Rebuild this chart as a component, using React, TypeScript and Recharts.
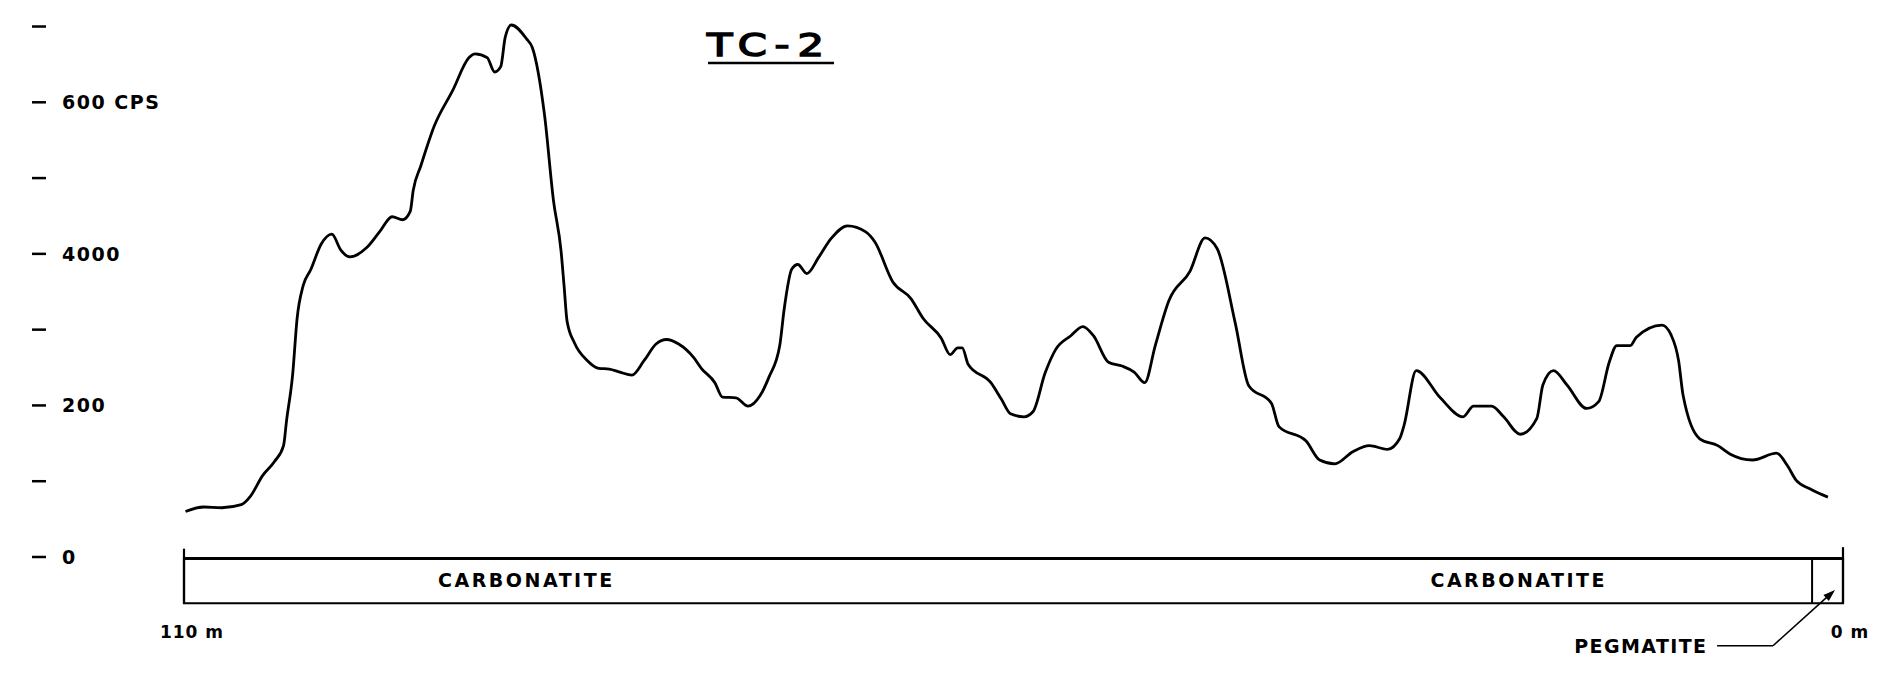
import React from 'react';
import { LineChart, Line, XAxis, YAxis, ReferenceArea, ReferenceLine, ReferenceDot } from 'recharts';

// Distance along trench (m), reading from 110 m (left) to 0 m (right)
const distances = [
  109.9, 108.7, 107.5, 106.2, 105.6, 104.8, 104.0, 103.4, 103.2, 102.8, 102.5, 102.1, 101.6, 100.9, 100.2,
  99.6, 99.0, 97.9, 97.0, 96.2, 95.5, 95.0, 94.8, 94.3, 93.4, 92.2, 91.1, 90.7, 89.9, 89.4, 89.0, 88.7, 88.3,
  87.3, 86.9, 86.1, 85.5, 85.0, 84.8, 84.6, 84.1, 83.3, 82.5, 81.8, 81.1, 80.3, 79.5, 78.7, 78.0, 77.2, 76.2,
  75.7, 74.8, 74.3, 73.4, 72.6, 71.8, 71.2, 70.5, 70.2, 69.7, 69.3, 68.7, 67.9, 67.1, 66.0, 64.8, 64.2, 63.0,
  61.8, 61.0, 59.8, 59.2, 58.7, 58.4, 58.0, 56.5, 55.8, 55.2, 54.3, 53.7, 52.9, 52.2, 51.2, 50.4, 49.7, 48.7,
  47.8, 47.0, 46.3, 45.6, 44.7, 43.3, 42.3, 41.5, 40.3, 39.4, 37.9, 37.4, 35.6, 34.7, 33.7, 32.5, 31.4, 30.2,
  29.4, 29.1, 28.3, 26.7, 25.2, 24.5, 23.3, 22.5, 21.4, 20.3, 19.9, 19.2, 18.3, 17.0, 16.2, 15.5, 15.0, 14.1,
  13.7, 12.0, 11.4, 10.9, 10.6, 9.5, 8.3, 7.5, 6.0, 4.4, 3.7, 3.1, 2.2, 1.6, 1.0,
];

// Counts per second
const cpsValues = [
  600, 660, 650, 690, 800, 1070, 1260, 1470, 1800, 2400, 3150, 3580, 3790, 4130, 4260,
  4050, 3960, 4080, 4300, 4490, 4450, 4560, 4840, 5160, 5690, 6150, 6590, 6640, 6590, 6400, 6470, 6860, 7020,
  6840, 6720, 5840, 4700, 4040, 3580, 3110, 2820, 2600, 2490, 2480, 2440, 2400, 2590, 2810, 2870, 2810, 2630,
  2490, 2300, 2110, 2100, 1990, 2130, 2380, 2790, 3280, 3800, 3860, 3740, 3960, 4200, 4370, 4290, 4160, 3630,
  3410, 3150, 2890, 2670, 2760, 2760, 2540, 2300, 2080, 1890, 1850, 1920, 2430, 2740, 2920, 3040, 2920, 2570,
  2520, 2440, 2300, 2790, 3380, 3770, 4210, 4070, 3090, 2260, 2030, 1720, 1530, 1280, 1230, 1390, 1470, 1420,
  1560, 1740, 2460, 2100, 1850, 1990, 1990, 1850, 1620, 1830, 2270, 2460, 2270, 1960, 2050, 2570, 2790, 2790,
  2900, 3060, 2930, 2590, 2130, 1560, 1470, 1360, 1280, 1370, 1210, 1010, 900, 840, 790,
];

const yTicks = [0, 1000, 2000, 3000, 4000, 5000, 6000, 7000];
const yTickLabels: Record<number, string> = { 0: '0', 2000: '200', 4000: '4000', 6000: '600 CPS' };
const xTicks = [110, 0];
const xTickLabels: Record<number, string> = { 110: '110 m', 0: '0 m' };

// Lithology log
const unitBoundaries = [110, 2.05, 0];
const lithoLabels = ['CARBONATITE', 'CARBONATITE'];
const lithoLabelPos = [87.3, 21.5];
const pegmatiteLabel = 'PEGMATITE';
const title = 'TC-2';

const data = distances.map((m, i) => ({ m, cps: cpsValues[i] }));

const FONT = '"DejaVu Sans", sans-serif';

const YTick = (props: any) => {
  const { y, payload } = props;
  const label = yTickLabels[payload.value];
  return (
    <g>
      <line x1={32} x2={46} y1={y} y2={y} stroke="#000" strokeWidth={2.5} />
      {label ? (
        <text x={62} y={y} dy="0.36em" fontFamily={FONT} fontWeight="bold" fontSize={19} fill="#000" letterSpacing={1.5}>
          {label}
        </text>
      ) : null}
    </g>
  );
};

const XTick = (props: any) => {
  const { x, payload } = props;
  const label = xTickLabels[payload.value];
  return (
    <text x={payload.value === 0 ? x + 7 : x + 8} y={638} textAnchor="middle" fontFamily={FONT} fontWeight="bold" fontSize={17} fill="#000" letterSpacing={1}>
      {label}
    </text>
  );
};

const TextShape = (text: string, size: number, spacing: number) => (props: any) => (
  <text x={props.cx} y={props.cy} dy="0.36em" textAnchor="middle" fontFamily={FONT} fontWeight="bold" fontSize={size} letterSpacing={spacing} fill="#000">
    {text}
  </text>
);

const ArrowHead = (props: any) => {
  const { cx, cy } = props;
  return <polygon points={`${cx},${cy} ${cx - 6.2},${cy + 11} ${cx - 11.6},${cy + 5}`} fill="#000" />;
};

export default function App() {
  return (
    <div style={{ position: 'absolute', left: 0, top: 0, width: 1877, height: 676, background: '#fff' }}>
      <LineChart width={1877} height={676} data={data} margin={{ top: 25, right: 34, bottom: 0, left: 0 }}>
        <XAxis
          type="number"
          dataKey="m"
          domain={[0, 110]}
          reversed
          ticks={xTicks}
          tick={<XTick />}
          axisLine={false}
          tickLine={false}
          height={119}
          interval={0}
        />
        <YAxis
          type="number"
          domain={[0, 7000]}
          ticks={yTicks}
          tick={<YTick />}
          axisLine={false}
          tickLine={false}
          width={184}
          interval={0}
        />
        <ReferenceArea
          x1={unitBoundaries[0]}
          x2={unitBoundaries[2]}
          y1={-20}
          y2={-610}
          ifOverflow="visible"
          fill="none"
          fillOpacity={0}
          stroke="#000"
          strokeWidth={2.2}
        />
        <ReferenceLine segment={[{ x: unitBoundaries[0], y: -20 }, { x: unitBoundaries[2], y: -20 }]} ifOverflow="visible" stroke="#000" strokeWidth={3} />
        <ReferenceLine segment={[{ x: unitBoundaries[1], y: -20 }, { x: unitBoundaries[1], y: -610 }]} ifOverflow="visible" stroke="#000" strokeWidth={2} />
        <ReferenceLine segment={[{ x: unitBoundaries[0], y: 110 }, { x: unitBoundaries[0], y: -610 }]} ifOverflow="visible" stroke="#000" strokeWidth={2.2} />
        <ReferenceLine segment={[{ x: unitBoundaries[2], y: 130 }, { x: unitBoundaries[2], y: -610 }]} ifOverflow="visible" stroke="#000" strokeWidth={2.2} />
        {lithoLabels.map((t, i) => (
          <ReferenceDot key={i} x={lithoLabelPos[i]} y={-300} r={1} ifOverflow="visible" shape={TextShape(t, 19, 2.5)} />
        ))}
        <ReferenceDot x={13.4} y={-1171} r={1} ifOverflow="visible" shape={TextShape(pegmatiteLabel, 19, 1.4)} />
        <ReferenceLine segment={[{ x: 8.35, y: -1171 }, { x: 4.64, y: -1171 }]} ifOverflow="visible" stroke="#000" strokeWidth={1.6} />
        <ReferenceLine segment={[{ x: 4.64, y: -1171 }, { x: 0.9, y: -500 }]} ifOverflow="visible" stroke="#000" strokeWidth={1.6} />
        <ReferenceDot x={0.53} y={-434} r={1} ifOverflow="visible" shape={<ArrowHead />} />
        <Line type="monotone" dataKey="cps" stroke="#000" strokeWidth={2.8} dot={false} isAnimationActive={false} />
      </LineChart>
      <svg width={1877} height={676} style={{ position: 'absolute', left: 0, top: 0, pointerEvents: 'none' }}>
        <text transform="translate(707,56) scale(1.3,1)" x={0} y={0} fontFamily={FONT} fontSize={32} letterSpacing={6} fill="#000" stroke="#000" strokeWidth={1.5}>
          {title}
        </text>
        <line x1={708} x2={834} y1={63} y2={63} stroke="#000" strokeWidth={2.5} />
      </svg>
    </div>
  );
}
